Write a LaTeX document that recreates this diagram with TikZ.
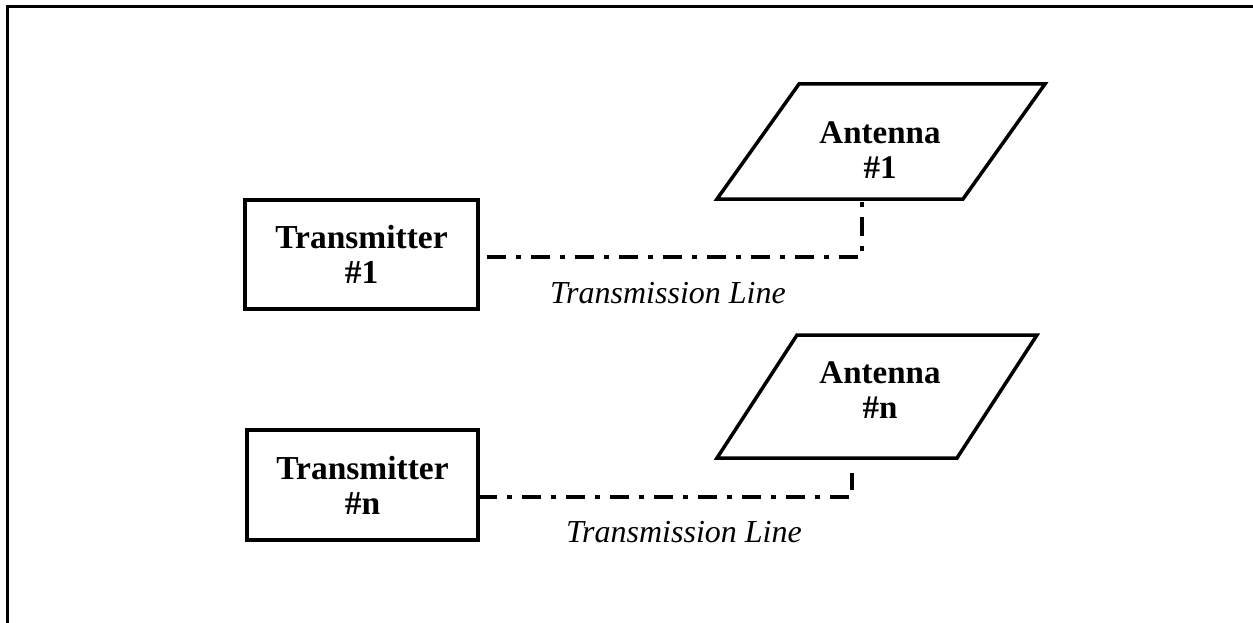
\documentclass[tikz,border=0pt]{standalone}
\usepackage{fontspec}
\setmainfont{Liberation Serif}

\tikzset{
  txbox/.style={draw, line width=3.5pt, inner sep=0pt, outer sep=0pt,
    align=center, font=\fontsize{33.5}{35}\selectfont\bfseries},
  antshape/.style={line width=3.5pt, line join=miter},
  anttext/.style={align=center, inner sep=0pt,
    font=\fontsize{33}{35}\selectfont\bfseries},
  lbl/.style={inner sep=0pt, font=\fontsize{32}{35}\selectfont\itshape},
  tline/.style={line width=3.8pt,
    dash pattern=on 19pt off 10pt on 5pt off 10pt},
  stub/.style={line width=3.8pt},
  frame/.style={line width=3pt}
}

\begin{document}
\begin{tikzpicture}[x=1pt, y=-1pt]
  \useasboundingbox (0,0) rectangle (1253,623);

  % outer frame (top and left edges)
  \draw[frame] (7,623) -- (7,7) -- (1253,7);

  % transmitters
  \node[txbox, minimum width=233pt, minimum height=109pt] (tx1) at (361.5,254.5)
    {Transmitter\\\#1};
  \node[txbox, minimum width=231pt, minimum height=110pt] (txn) at (362.5,485)
    {Transmitter\\\#n};

  % antenna #1: parallelogram with its label
  \coordinate (a1bl) at (717,199);
  \coordinate (a1tl) at (799,84);
  \coordinate (a1tr) at (1045,84);
  \coordinate (a1br) at (963,199);
  \draw[antshape] (a1bl) -- (a1tl) -- (a1tr) -- (a1br) -- cycle;
  \node[anttext] (ant1) at (880,150) {Antenna\\\#1};

  % antenna #n: parallelogram with its label
  \coordinate (anbl) at (717,458);
  \coordinate (antl) at (797,335);
  \coordinate (antr) at (1037,335);
  \coordinate (anbr) at (957,458);
  \draw[antshape] (anbl) -- (antl) -- (antr) -- (anbr) -- cycle;
  \node[anttext] (antn) at (880,390) {Antenna\\\#n};

  % feed points below the antennas
  \coordinate (feed1) at (862,199);
  \coordinate (feedn) at (852,473);

  % transmission lines
  \draw[tline, shorten <=9pt] ([yshift=-2.5pt]tx1.east) -| (feed1);
  \draw[tline] ([yshift=-12pt]txn.east) -| (feedn);
  \draw[stub] (feedn) -- ++(0,14);

  \node[lbl, anchor=base] (lbl1) at (668,303) {Transmission Line};
  \node[lbl, anchor=base] (lbln) at (684,542) {Transmission Line};
\end{tikzpicture}
\end{document}
